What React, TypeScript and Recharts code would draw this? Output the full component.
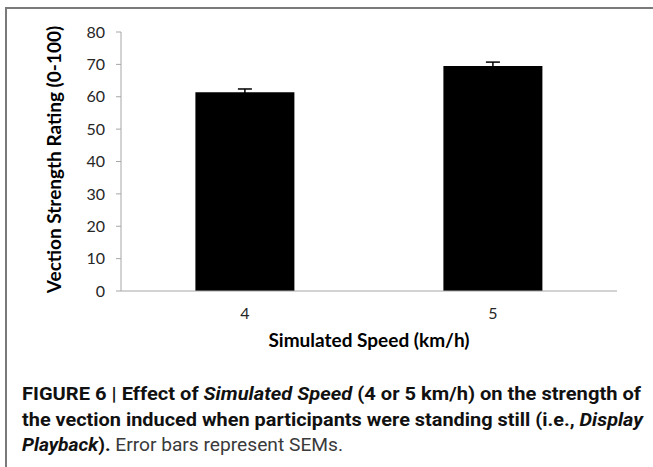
import React from "react";
import { BarChart, Bar, XAxis, YAxis, ErrorBar } from "recharts";

const categories = ["4", "5"];
const ratings = [61.4, 69.5];
const sems = [1.0, 1.2];
const yTicks = [0, 10, 20, 30, 40, 50, 60, 70, 80];

const data = categories.map((speed, i) => ({
  speed,
  rating: ratings[i],
  sem: sems[i],
}));

const AXIS_GRAY = "#a6a6a6";
const CHART_FONT = "Lato, Carlito, 'Open Sans', sans-serif";
const CAPTION_FONT = "Roboto, 'Liberation Sans', sans-serif";

function YTitle({ viewBox }: any) {
  const cx = 61;
  const cy = viewBox.y + viewBox.height / 2 - 2;
  return (
    <text
      x={cx}
      y={cy}
      transform={`rotate(-90, ${cx}, ${cy})`}
      textAnchor="middle"
      fontFamily={CHART_FONT}
      fontWeight={700}
      fontSize={19}
      fill="#000"
    >
      Vection Strength Rating (0-100)
    </text>
  );
}

function XTitle({ viewBox }: any) {
  const cx = viewBox.x + viewBox.width / 2;
  return (
    <text
      x={cx}
      y={347}
      textAnchor="middle"
      fontFamily={CHART_FONT}
      fontWeight={700}
      fontSize={19}
      fill="#000"
    >
      Simulated Speed (km/h)
    </text>
  );
}

export default function App() {
  return (
    <div
      style={{
        position: "absolute",
        left: 0,
        top: 0,
        width: 653,
        height: 467,
        background: "#fff",
        overflow: "hidden",
      }}
    >
      <div
        style={{
          position: "absolute",
          left: 5,
          top: 7,
          width: 700,
          height: 500,
          borderTop: "2px solid #7a7a7a",
          borderLeft: "2px solid #7a7a7a",
        }}
      />
      <div style={{ position: "absolute", left: 0, top: 0 }}>
        <BarChart
          width={653}
          height={360}
          data={data}
          margin={{ top: 32, right: 36, bottom: 0, left: 0 }}
          barCategoryGap="30%"
        >
          <XAxis
            xAxisId="edge"
            type="number"
            domain={[0, 2]}
            ticks={[0, 1, 2]}
            allowDataOverflow
            height={0}
            tick={false}
            axisLine={false}
            tickSize={5}
            tickLine={{ stroke: AXIS_GRAY }}
          />
          <XAxis
            dataKey="speed"
            height={69}
            tickLine={false}
            tickSize={0}
            tickMargin={17}
            axisLine={{ stroke: AXIS_GRAY }}
            tick={{ fontSize: 16, fill: "#262626", fontFamily: CHART_FONT }}
            label={<XTitle />}
          />
          <YAxis
            width={121}
            domain={[0, 80]}
            ticks={yTicks}
            interval={0}
            tickSize={5}
            tickMargin={11}
            axisLine={{ stroke: AXIS_GRAY }}
            tickLine={{ stroke: AXIS_GRAY }}
            tick={{ fontSize: 16, fill: "#262626", fontFamily: CHART_FONT }}
            label={<YTitle />}
          />
          <Bar dataKey="rating" fill="#000" isAnimationActive={false}>
            <ErrorBar
              dataKey="sem"
              direction="y"
              width={7}
              stroke="#000"
              strokeWidth={1.5}
              isAnimationActive={false}
            />
          </Bar>
        </BarChart>
      </div>
      {/* caption, squeezed to mimic the condensed journal face */}
      <svg
        width={653}
        height={107}
        style={{ position: "absolute", left: 0, top: 360 }}
        fontFamily={CAPTION_FONT}
        fontSize={17.5}
      >
        <text
          x={22}
          y={40}
          textLength={619}
          lengthAdjust="spacingAndGlyphs"
          fontWeight={700}
          fill="#111"
        >
          FIGURE 6 | Effect of <tspan fontStyle="italic">Simulated Speed</tspan> (4 or 5 km/h) on the strength of
        </text>
        <text
          x={22}
          y={65.5}
          textLength={621}
          lengthAdjust="spacingAndGlyphs"
          fontWeight={700}
          fill="#111"
        >
          the vection induced when participants were standing still (i.e., <tspan fontStyle="italic">Display</tspan>
        </text>
        <text
          x={22}
          y={91}
          textLength={321}
          lengthAdjust="spacingAndGlyphs"
          fill="#111"
        >
          <tspan fontWeight={700} fontStyle="italic">Playback</tspan>
          <tspan fontWeight={700}>).</tspan>
          <tspan fill="#3a3a3a"> Error bars represent SEMs.</tspan>
        </text>
      </svg>
    </div>
  );
}
